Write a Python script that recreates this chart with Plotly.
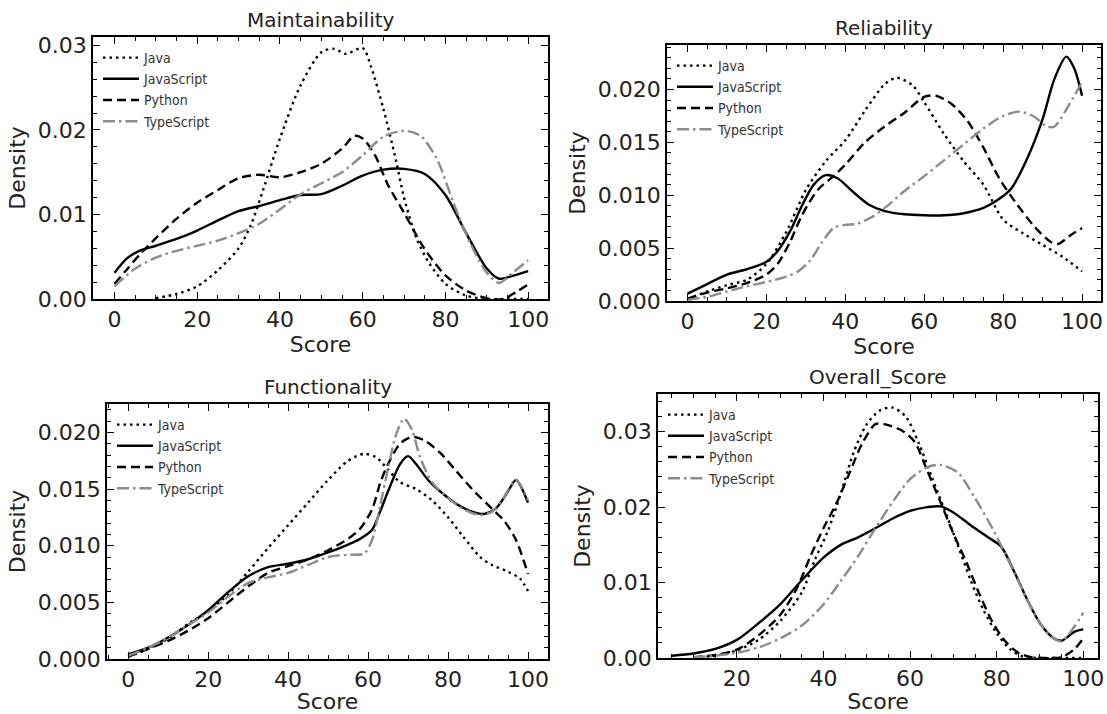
import plotly.graph_objects as go

W, H = 1107, 714
LANGS = ["Java", "JavaScript", "Python", "TypeScript"]

# ---------------- Maintainability ----------------
maint_java_x = [10, 15, 20, 25, 30, 33, 36, 40, 45, 50, 53, 56, 60, 62, 65, 68, 70, 73, 76, 80, 85, 90, 95, 100]
maint_java_y = [0.0001, 0.0006, 0.0015, 0.0034, 0.0060, 0.0088, 0.0130, 0.0190, 0.0253, 0.0292, 0.0296, 0.0290, 0.0297, 0.0275, 0.0225, 0.0165, 0.0120, 0.0072, 0.0043, 0.0018, 0.0004, 0.0000, 0.0000, 0.0000]
maint_js_x = [0, 3, 6, 10, 15, 20, 25, 30, 35, 40, 45, 50, 55, 60, 65, 70, 75, 80, 85, 90, 93, 96, 100]
maint_js_y = [0.0031, 0.0048, 0.0057, 0.0063, 0.0071, 0.0081, 0.0093, 0.0104, 0.0110, 0.0117, 0.0123, 0.0124, 0.0134, 0.0146, 0.0153, 0.0154, 0.0148, 0.0123, 0.0078, 0.0036, 0.0024, 0.0027, 0.0033]
maint_py_x = [0, 3, 6, 10, 15, 20, 25, 30, 35, 40, 45, 50, 55, 58, 60, 63, 66, 70, 75, 80, 85, 90, 94, 97, 100]
maint_py_y = [0.0018, 0.0035, 0.0052, 0.0072, 0.0095, 0.0114, 0.0129, 0.0143, 0.0147, 0.0144, 0.0150, 0.0160, 0.0178, 0.0193, 0.0190, 0.0170, 0.0136, 0.0102, 0.0059, 0.0028, 0.0010, 0.0001, 0.0000, 0.0008, 0.0017]
maint_ts_x = [0, 5, 10, 15, 20, 25, 30, 35, 40, 45, 50, 55, 60, 65, 70, 74, 78, 82, 86, 90, 93, 96, 100]
maint_ts_y = [0.0015, 0.0036, 0.0049, 0.0057, 0.0063, 0.0069, 0.0078, 0.0089, 0.0106, 0.0124, 0.0137, 0.0150, 0.0170, 0.0192, 0.0199, 0.0193, 0.0165, 0.0113, 0.0066, 0.0031, 0.0019, 0.0030, 0.0046]

# ---------------- Reliability ----------------
rel_java_x = [0, 5, 10, 15, 20, 25, 30, 35, 40, 45, 50, 53, 57, 60, 65, 70, 75, 80, 85, 90, 95, 100]
rel_java_y = [0.0002, 0.0009, 0.0015, 0.0020, 0.0035, 0.0065, 0.0105, 0.0132, 0.0152, 0.0180, 0.0205, 0.0211, 0.0204, 0.0188, 0.0158, 0.0132, 0.0110, 0.0077, 0.0064, 0.0053, 0.0042, 0.0028]
rel_js_x = [0, 5, 10, 15, 20, 23, 26, 29, 32, 35, 38, 42, 46, 50, 55, 60, 65, 70, 75, 78, 82, 86, 90, 93, 96, 98, 100]
rel_js_y = [0.0007, 0.0016, 0.0025, 0.0030, 0.0037, 0.0048, 0.0066, 0.0090, 0.0110, 0.0119, 0.0116, 0.0103, 0.0091, 0.0085, 0.0082, 0.0081, 0.0081, 0.0083, 0.0088, 0.0094, 0.0106, 0.0134, 0.0172, 0.0210, 0.0231, 0.0220, 0.0194]
rel_py_x = [0, 5, 10, 15, 20, 23, 26, 29, 33, 37, 40, 45, 50, 55, 60, 63, 67, 71, 75, 79, 83, 88, 92, 94, 97, 100]
rel_py_y = [0.0002, 0.0008, 0.0012, 0.0017, 0.0025, 0.0036, 0.0056, 0.0081, 0.0105, 0.0118, 0.0129, 0.0150, 0.0165, 0.0178, 0.0193, 0.0194, 0.0186, 0.0170, 0.0145, 0.0116, 0.0094, 0.0070, 0.0056, 0.0054, 0.0062, 0.0069]
rel_ts_x = [0, 5, 10, 15, 20, 25, 28, 31, 34, 37, 40, 43, 47, 50, 55, 60, 65, 70, 75, 80, 84, 88, 91, 93, 96, 100]
rel_ts_y = [0.0001, 0.0004, 0.0009, 0.0014, 0.0018, 0.0023, 0.0028, 0.0038, 0.0055, 0.0069, 0.0072, 0.0073, 0.0080, 0.0088, 0.0104, 0.0118, 0.0133, 0.0148, 0.0163, 0.0175, 0.0179, 0.0174, 0.0165, 0.0165, 0.0181, 0.0207]

# ---------------- Functionality ----------------
func_java_x = [0, 5, 10, 15, 20, 25, 30, 35, 40, 45, 50, 55, 59, 62, 65, 68, 72, 76, 80, 84, 88, 91, 95, 98, 100]
func_java_y = [0.0002, 0.0009, 0.0018, 0.0031, 0.0042, 0.0057, 0.0077, 0.0098, 0.0118, 0.0138, 0.0158, 0.0175, 0.0181, 0.0178, 0.0167, 0.0156, 0.0150, 0.0140, 0.0125, 0.0107, 0.0090, 0.0083, 0.0077, 0.0071, 0.0060]
func_js_x = [0, 5, 10, 15, 20, 25, 30, 35, 40, 45, 50, 55, 58, 61, 63, 65, 68, 70, 72, 75, 78, 82, 86, 89, 92, 95, 97, 100]
func_js_y = [0.0004, 0.0010, 0.0019, 0.0030, 0.0043, 0.0059, 0.0073, 0.0081, 0.0084, 0.0088, 0.0094, 0.0101, 0.0106, 0.0114, 0.0130, 0.0148, 0.0172, 0.0179, 0.0172, 0.0158, 0.0148, 0.0137, 0.0130, 0.0128, 0.0133, 0.0148, 0.0158, 0.0138]
func_py_x = [0, 5, 10, 15, 20, 25, 30, 35, 40, 45, 50, 55, 58, 61, 63, 65, 68, 71, 74, 78, 82, 86, 90, 94, 97, 100]
func_py_y = [0.0002, 0.0009, 0.0016, 0.0025, 0.0036, 0.0050, 0.0064, 0.0076, 0.0082, 0.0088, 0.0096, 0.0106, 0.0115, 0.0132, 0.0155, 0.0172, 0.0190, 0.0196, 0.0193, 0.0182, 0.0166, 0.0150, 0.0136, 0.0122, 0.0105, 0.0075]
func_ts_x = [0, 5, 10, 15, 20, 25, 30, 35, 40, 45, 50, 55, 59, 61, 63, 65, 67, 69, 71, 73, 76, 80, 84, 88, 91, 94, 97, 100]
func_ts_y = [0.0003, 0.0010, 0.0019, 0.0030, 0.0041, 0.0055, 0.0067, 0.0072, 0.0076, 0.0083, 0.0090, 0.0092, 0.0093, 0.0105, 0.0135, 0.0168, 0.0198, 0.0212, 0.0202, 0.0178, 0.0156, 0.0142, 0.0132, 0.0127, 0.0130, 0.0143, 0.0158, 0.0140]

# ---------------- Overall_Score ----------------
over_java_x = [10, 15, 20, 25, 30, 35, 38, 41, 44, 47, 50, 53, 56, 59, 62, 65, 68, 71, 74, 77, 80, 83, 86, 90, 95, 100]
over_java_y = [0.0001, 0.0003, 0.0010, 0.0024, 0.0049, 0.0087, 0.0130, 0.0168, 0.0218, 0.0273, 0.0310, 0.0328, 0.0332, 0.0320, 0.0285, 0.0240, 0.0196, 0.0150, 0.0103, 0.0063, 0.0033, 0.0012, 0.0002, 0.0000, 0.0000, 0.0000]
over_js_x = [5, 10, 15, 20, 25, 30, 35, 40, 44, 48, 52, 56, 60, 64, 67, 70, 74, 78, 81, 84, 87, 90, 93, 95, 98, 100]
over_js_y = [0.0003, 0.0006, 0.0012, 0.0024, 0.0046, 0.0071, 0.0103, 0.0133, 0.0150, 0.0160, 0.0172, 0.0185, 0.0195, 0.0200, 0.0201, 0.0193, 0.0176, 0.0160, 0.0148, 0.0115, 0.0078, 0.0046, 0.0027, 0.0023, 0.0035, 0.0038]
over_py_x = [10, 15, 20, 25, 30, 34, 37, 40, 43, 46, 49, 52, 54, 58, 61, 64, 67, 70, 73, 76, 79, 82, 85, 88, 92, 95, 98, 100]
over_py_y = [0.0001, 0.0004, 0.0011, 0.0030, 0.0057, 0.0094, 0.0135, 0.0172, 0.0205, 0.0245, 0.0285, 0.0310, 0.0310, 0.0302, 0.0287, 0.0248, 0.0207, 0.0165, 0.0127, 0.0085, 0.0048, 0.0022, 0.0007, 0.0001, 0.0000, 0.0001, 0.0012, 0.0026]
over_ts_x = [10, 15, 20, 25, 30, 35, 40, 44, 48, 52, 56, 60, 64, 67, 71, 75, 79, 82, 84, 87, 90, 93, 95, 98, 100]
over_ts_y = [0.0001, 0.0003, 0.0007, 0.0014, 0.0026, 0.0043, 0.0071, 0.0102, 0.0135, 0.0172, 0.0207, 0.0237, 0.0253, 0.0256, 0.0246, 0.0212, 0.0172, 0.0138, 0.0114, 0.0078, 0.0046, 0.0027, 0.0022, 0.0042, 0.0060]

panels = [
    dict(title="Maintainability",
         series=[(maint_java_x, maint_java_y), (maint_js_x, maint_js_y), (maint_py_x, maint_py_y), (maint_ts_x, maint_ts_y)],
         box=(93, 37, 548, 299), xr=[-5.2, 104.8], yr=[0, 0.0310], ydt=0.01, ymin=0.002, yfmt=".2f"),
    dict(title="Reliability",
         series=[(rel_java_x, rel_java_y), (rel_js_x, rel_js_y), (rel_py_x, rel_py_y), (rel_ts_x, rel_ts_y)],
         box=(667, 45, 1101, 301), xr=[-5.2, 104.8], yr=[0, 0.0242], ydt=0.005, ymin=0.001, yfmt=".3f"),
    dict(title="Functionality",
         series=[(func_java_x, func_java_y), (func_js_x, func_js_y), (func_py_x, func_py_y), (func_ts_x, func_ts_y)],
         box=(107, 404, 548, 659), xr=[-5.3, 105.0], yr=[0, 0.0225], ydt=0.005, ymin=0.001, yfmt=".3f"),
    dict(title="Overall_Score",
         series=[(over_java_x, over_java_y), (over_js_x, over_js_y), (over_py_x, over_py_y), (over_ts_x, over_ts_y)],
         box=(658, 394, 1098, 658), xr=[1.8, 103.4], yr=[0, 0.0350], ydt=0.01, ymin=0.002, yfmt=".2f"),
]

styles = [
    dict(color="black", dash="2.5px,4px", width=2.4),
    dict(color="black", dash="solid", width=2.4),
    dict(color="black", dash="9px,5px", width=2.4),
    dict(color="#8c8c8c", dash="12px,4px,2.5px,4px", width=2.4),
]

fig = go.Figure()
FONT = "DejaVu Sans, Verdana, sans-serif"
LFONT = "DejaVu Sans Condensed, Liberation Sans Narrow, sans-serif"

for i, p in enumerate(panels):
    n = "" if i == 0 else str(i + 1)
    x0, y0, x1, y1 = p["box"]
    xd = [x0 / W, x1 / W]
    yd = [1 - y1 / H, 1 - y0 / H]
    leg = "legend" if i == 0 else "legend" + str(i + 1)
    for j, (xs, ys) in enumerate(p["series"]):
        fig.add_trace(go.Scatter(
            x=xs, y=ys, mode="lines", name=LANGS[j],
            line=dict(shape="spline", smoothing=0.8, **styles[j]),
            xaxis="x" + n, yaxis="y" + n, legend=leg, showlegend=True,
        ))
    axcommon = dict(showline=True, linecolor="black", linewidth=1.5, mirror="allticks",
                    ticks="inside", ticklen=7, tickwidth=1.2, tickcolor="black",
                    showgrid=False, zeroline=False, automargin=False,
                    tickfont=dict(family=FONT, size=22, color="#222"),
                    title_font=dict(family=FONT, size=22, color="#222"))
    fig.update_layout(**{
        "xaxis" + n: dict(domain=xd, range=p["xr"], anchor="y" + n, dtick=20, tick0=0,
                           minor=dict(ticks="inside", ticklen=4, dtick=5, tick0=0, tickcolor="black", tickwidth=1),
                           title=dict(text="Score", standoff=4), **axcommon),
        "yaxis" + n: dict(domain=yd, range=p["yr"], anchor="x" + n, dtick=p["ydt"], tick0=0,
                           tickformat=p["yfmt"],
                           minor=dict(ticks="inside", ticklen=4, dtick=p["ymin"], tick0=0, tickcolor="black", tickwidth=1),
                           title=dict(text="Density", standoff=6), **axcommon),
        leg: dict(x=(x0 + 5) / W, y=1 - (y0 + 5) / H, xanchor="left", yanchor="top",
                  bgcolor="rgba(0,0,0,0)", borderwidth=0,
                  font=dict(family=LFONT, size=14, color="#333"),
                  tracegroupgap=0, itemwidth=36),
    })
    fig.add_annotation(text=p["title"], x=(x0 + x1) / 2 / W, y=1 - (y0 - 3) / H,
                       xref="paper", yref="paper", xanchor="center", yanchor="bottom",
                       showarrow=False, font=dict(family=FONT, size=20, color="#222"))

fig.update_layout(width=W, height=H, margin=dict(l=0, r=0, t=0, b=0, autoexpand=False),
                  paper_bgcolor="white", plot_bgcolor="white", showlegend=True)

# remove the default page margin so the figure fills the window exactly
fig.write_html("out.html", config={"displayModeBar": False},
               post_script="document.body.style.margin='0';document.body.style.overflow='hidden';")
